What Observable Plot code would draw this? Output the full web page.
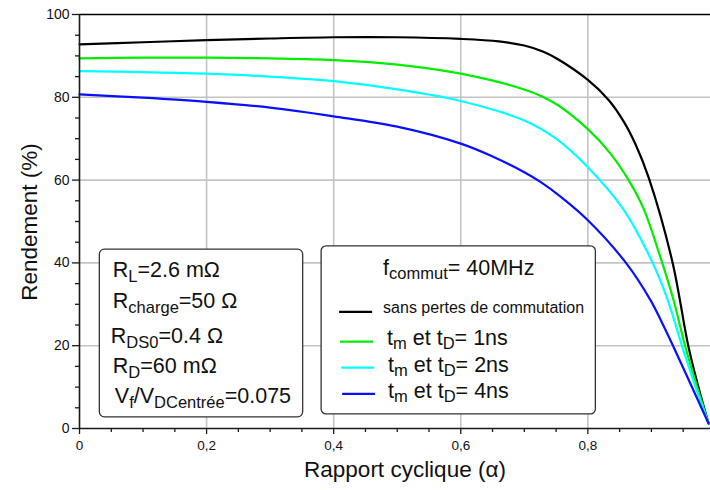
<!DOCTYPE html>
<html><head><meta charset="utf-8">
<script src="https://cdn.jsdelivr.net/npm/d3@7"></script>
<script src="https://cdn.jsdelivr.net/npm/@observablehq/plot@0.6"></script>
<style>body{margin:0;background:#fff} svg{display:block}</style>
</head><body><div id="chart"></div>
<script>
// ---- data ----
const alphaBlack = [0, 0.1, 0.2, 0.3, 0.4, 0.5, 0.6, 0.66, 0.7, 0.73, 0.753, 0.8, 0.833, 0.857, 0.876, 0.896, 0.933, 0.958, 0.974, 0.99];
const rendBlack  = [92.8, 93.3, 93.8, 94.2, 94.5, 94.5, 94.1, 93.5, 92.5, 91.0, 89.2, 84.2, 79.3, 74.0, 68.3, 60.5, 40.3, 20.0, 10.0, 1.2];
const alpha1ns = [0, 0.1, 0.2, 0.3, 0.4, 0.5, 0.6, 0.7, 0.728, 0.755, 0.8, 0.835, 0.866, 0.888, 0.917, 0.935, 0.953, 0.972, 0.99];
const rend1ns  = [89.4, 89.6, 89.6, 89.4, 89.0, 87.9, 85.7, 81.9, 80.2, 77.9, 72.3, 66.5, 59.5, 53.0, 40.0, 30.9, 20.0, 10.0, 1.2];
const alpha2ns = [0, 0.1, 0.2, 0.3, 0.4, 0.5, 0.6, 0.7, 0.75, 0.8, 0.857, 0.902, 0.926, 0.948, 0.97, 0.99];
const rend2ns  = [86.3, 86.1, 85.7, 85.0, 83.9, 81.9, 79.1, 74.4, 70.0, 63.1, 52.7, 40.0, 30.9, 20.0, 9.8, 1.2];
const alpha4ns = [0, 0.1, 0.2, 0.3, 0.4, 0.5, 0.6, 0.65, 0.7, 0.726, 0.757, 0.8, 0.86, 0.899, 0.915, 0.934, 0.96, 0.99];
const rend4ns  = [80.7, 79.9, 78.9, 77.5, 75.4, 72.9, 68.8, 65.7, 61.9, 59.5, 56.0, 50.3, 40.0, 30.9, 26.1, 20.0, 11.3, 1.2];

const seriesColors = ["#000000", "#00ee00", "#00ffff", "#0a10ff"];
const xTickValues = [0, 0.2, 0.4, 0.6, 0.8];
const xTickLabels = ["0", "0,2", "0,4", "0,6", "0,8"];
const xMinorTicks = [0.05,0.1,0.15,0.25,0.3,0.35,0.45,0.5,0.55,0.65,0.7,0.75,0.85,0.9,0.95];
const yTickValues = [0, 20, 40, 60, 80, 100];
const yTickLabels = ["0", "20", "40", "60", "80", "100"];
const yMinorTicks = [5,10,15,25,30,35,45,50,55,65,70,75,85,90,95];
const xLabel = "Rapport cyclique (α)";
const yLabel = "Rendement (%)";

// parameter box lines: [text, isSubscript]
const paramLines = [
  [["R",0],["L",1],["=2.6 mΩ",0]],
  [["R",0],["charge",1],["=50 Ω",0]],
  [["R",0],["DS0",1],["=0.4 Ω",0]],
  [["R",0],["D",1],["=60 mΩ",0]],
  [["V",0],["f",1],["/V",0],["DCentrée",1],["=0.075",0]]
];
const legendTitle = [["f",0],["commut",1],["= 40MHz",0]];
const legendNoLoss = "sans pertes de commutation";
const legendEntries = [
  [["t",0],["m",1],[" et t",0],["D",1],["= 1ns",0]],
  [["t",0],["m",1],[" et t",0],["D",1],["= 2ns",0]],
  [["t",0],["m",1],[" et t",0],["D",1],["= 4ns",0]]
];

const toRows = (a, v) => a.map((x, i) => ({a: x, v: v[i]}));
const series = [toRows(alphaBlack, rendBlack), toRows(alpha1ns, rend1ns), toRows(alpha2ns, rend2ns), toRows(alpha4ns, rend4ns)];

const axisStroke = "#1a1a1a";
const font = "'Liberation Sans', Arial, sans-serif";

const chart = Plot.plot({
  width: 710, height: 490,
  marginLeft: 79, marginRight: 0, marginTop: 14, marginBottom: 62,
  x: {domain: [0, 0.993]},
  y: {domain: [0, 100]},
  style: {fontFamily: font, fontSize: "13.5px", background: "white", color: "#111", overflow: "visible"},
  marks: [
    Plot.gridX(xTickValues.filter(d => d > 0), {stroke: "#c4c4c4", strokeOpacity: 1, strokeWidth: 1.6}),
    Plot.gridY(yTickValues.filter(d => d > 0 && d < 100), {stroke: "#c4c4c4", strokeOpacity: 1, strokeWidth: 1.6}),
    Plot.axisX(xMinorTicks, {tickSize: 4, tickFormat: () => "", label: null, stroke: axisStroke, strokeWidth: 1.3}),
    Plot.axisX(xTickValues, {tickSize: 6, tickPadding: 6, tickFormat: d => xTickLabels[xTickValues.indexOf(d)], label: null, stroke: axisStroke, strokeWidth: 1.3, fontSize: 13.5}),
    Plot.axisY(yMinorTicks, {tickSize: 4, tickFormat: () => "", label: null, stroke: axisStroke, strokeWidth: 1.3}),
    Plot.axisY(yTickValues, {tickSize: 7, tickPadding: 3, tickFormat: d => yTickLabels[yTickValues.indexOf(d)], label: null, stroke: axisStroke, strokeWidth: 1.3, fontSize: 14}),
    Plot.ruleY([100], {stroke: "#000", strokeWidth: 1.6}),
    ...series.map((rows, i) => Plot.line(rows, {x: "a", y: "v", stroke: seriesColors[i], strokeWidth: 2.2, curve: "catmull-rom"})),
    Plot.ruleX([0], {stroke: axisStroke, strokeWidth: 1.6}),
    Plot.ruleY([0], {stroke: axisStroke, strokeWidth: 1.6})
  ]
});
document.getElementById("chart").append(chart);

const sx = chart.scale("x"), sy = chart.scale("y");
const svg = d3.select(chart);

function rich(g, x, y, segs, size, subSize, shift) {
  const t = g.append("text").attr("x", x).attr("y", y).attr("font-size", size).attr("font-family", font)
    .attr("fill", "#111").attr("text-anchor", "start");
  let inSub = false;
  segs.forEach(([s, isSub]) => {
    const ts = t.append("tspan").text(s);
    if (isSub) {
      ts.attr("font-size", subSize);
      if (!inSub) { ts.attr("dy", shift); inSub = true; }
    } else if (inSub) { ts.attr("dy", -shift); inSub = false; }
  });
  return t;
}

// parameter box
const lb = {x1: sx.apply(0.032), x2: sx.apply(0.352), y1: sy.apply(43.2), y2: sy.apply(2.7)};
const gL = svg.append("g");
gL.append("rect").attr("x", lb.x1).attr("y", lb.y1).attr("width", lb.x2 - lb.x1).attr("height", lb.y2 - lb.y1)
  .attr("rx", 5).attr("fill", "white").attr("stroke", "#333").attr("stroke-width", 1.3);
const paramDx = [13.5, 13.5, 11.5, 13.5, 15.5];
const paramDy = [28, 59, 94, 124, 154];
paramLines.forEach((segs, i) => rich(gL, lb.x1 + paramDx[i], lb.y1 + paramDy[i], segs, 21.5, 16.5, 4.5));

// legend box
const rb = {x1: sx.apply(0.381), x2: sx.apply(0.8126), y1: sy.apply(44.0), y2: sy.apply(3.4)};
const gR = svg.append("g");
gR.append("rect").attr("x", rb.x1).attr("y", rb.y1).attr("width", rb.x2 - rb.x1).attr("height", rb.y2 - rb.y1)
  .attr("rx", 5).attr("fill", "white").attr("stroke", "#333").attr("stroke-width", 1.3);
rich(gR, rb.x1 + 62, rb.y1 + 29, legendTitle, 21.5, 16.5, 4.5);
gR.append("text").attr("x", rb.x1 + 62).attr("y", rb.y1 + 67).attr("font-size", 16).attr("font-family", font)
  .attr("fill", "#111").attr("text-anchor", "start").text(legendNoLoss);
const sampleY = [66, 95.7, 121.7, 148];
const sampleX = [18, 19, 20, 21];
sampleY.forEach((yy, i) => gR.append("line").attr("x1", rb.x1 + sampleX[i]).attr("x2", rb.x1 + sampleX[i] + 33)
  .attr("y1", rb.y1 + yy).attr("y2", rb.y1 + yy).attr("stroke", seriesColors[i]).attr("stroke-width", 2.2));
const entryDy = [99, 125.7, 152];
const entryDx = [66, 67, 67];
legendEntries.forEach((segs, i) => rich(gR, rb.x1 + entryDx[i], rb.y1 + entryDy[i], segs, 21.5, 16.5, 4.5));

// axis titles
svg.append("text").attr("x", 405).attr("y", 477).attr("text-anchor", "middle").attr("font-size", 22.5)
  .attr("font-family", font).attr("fill", "#111").text(xLabel);
svg.append("text").attr("transform", "translate(37,222) rotate(-90)").attr("text-anchor", "middle").attr("font-size", 22.5)
  .attr("font-family", font).attr("fill", "#111").text(yLabel);
</script>
</body></html>
